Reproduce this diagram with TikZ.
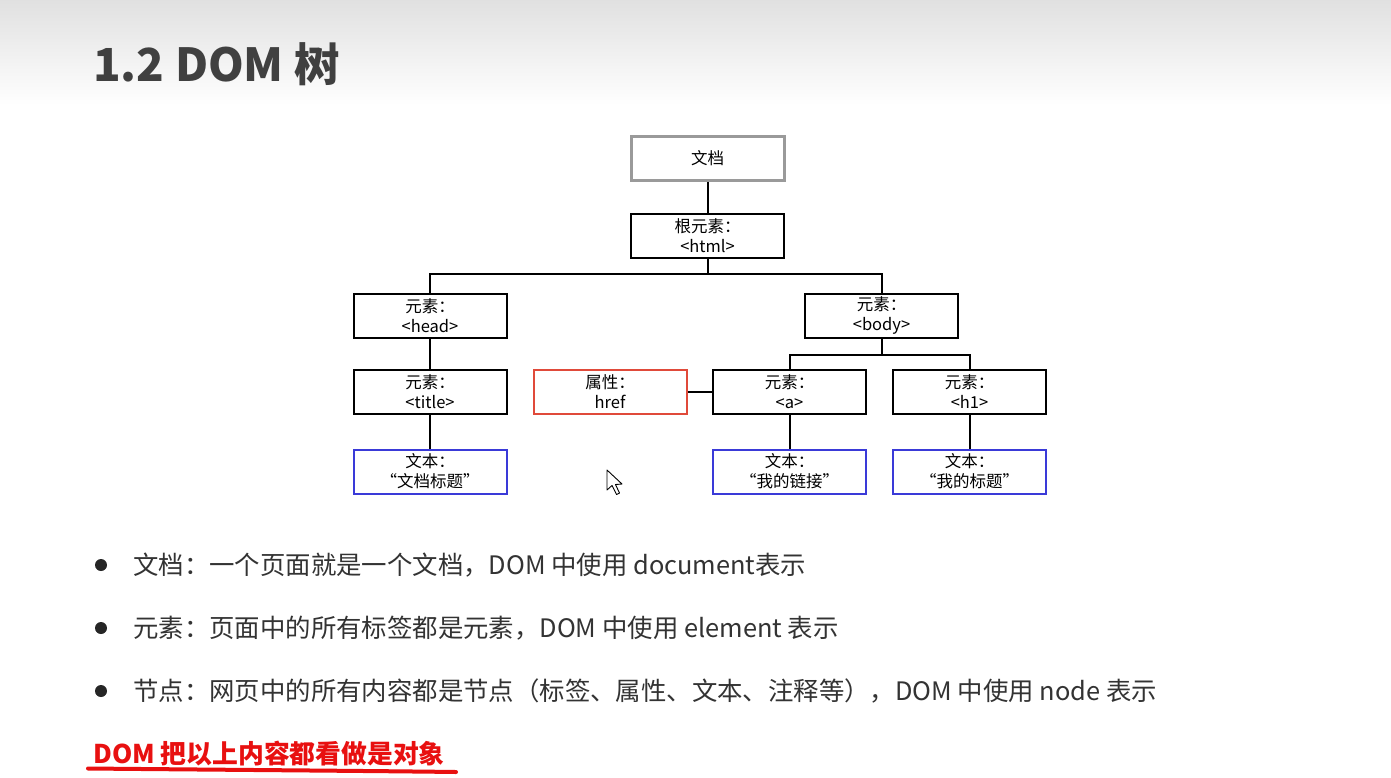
\documentclass[tikz,border=0pt]{standalone}
\usepackage{fontspec}
\setmainfont{Noto Sans CJK SC}
\definecolor{titlegray}{HTML}{404040}
\definecolor{bodytext}{HTML}{333333}
\definecolor{attrred}{HTML}{E04A3A}
\definecolor{textblue}{HTML}{3A3AD8}
\definecolor{docgray}{HTML}{9A9A9A}
\definecolor{markred}{HTML}{E81010}
\tikzset{
  treebox/.style={draw=black, line width=2pt, fill=white, minimum width=153pt,
    minimum height=44pt, inner sep=0pt, align=center,
    font=\fontsize{16.5}{20}\selectfont},
  docbox/.style={treebox, draw=docgray, line width=3pt},
  attrbox/.style={treebox, draw=attrred},
  textbox/.style={treebox, draw=textblue},
  conn/.style={draw=black, line width=2pt},
  bullettext/.style={anchor=west, inner sep=0pt, text=bodytext,
    font=\fontsize{25.4}{29}\selectfont},
  bulletdot/.style={circle, fill=black!85, inner sep=0pt, minimum size=12pt}
}
\begin{document}
\begin{tikzpicture}[x=1pt,y=-1pt]
  % page and header band
  \useasboundingbox (0,0) rectangle (1391,777);
  \fill[white] (0,0) rectangle (1391,777);
  \shade[top color=black!12, bottom color=white] (0,0) rectangle (1391,105);

  % title
  \node[anchor=west, inner sep=0pt, text=titlegray,
        font=\fontsize{45.5}{50}\selectfont\bfseries] (title) at (93,64) {1.2 DOM 树};

  % tree nodes
  \node[docbox]  (doc)   at (707.5,158.5) {文档};
  \node[treebox] (html)  at (707.5,236)   {根元素：\\<html>};
  \node[treebox] (head)  at (430,315.5)   {元素：\\<head>};
  \node[treebox] (body)  at (881.5,315.5) {元素：\\<body>};
  \node[treebox] (ttl)   at (430,392)     {元素：\\<title>};
  \node[attrbox] (href)  at (610,392)     {属性：\\href};
  \node[treebox] (anc)   at (789.5,392)   {元素：\\<a>};
  \node[treebox] (hone)  at (969.5,392)   {元素：\\<h1>};
  \node[textbox] (ttxt)  at (430,471.5)   {文本：\\“文档标题”};
  \node[textbox] (atxt)  at (789.5,471.5) {文本：\\“我的链接”};
  \node[textbox] (htxt)  at (969.5,471.5) {文本：\\“我的标题”};

  % branch points
  \coordinate (hbar) at (707.5,274);
  \coordinate (bbar) at (881.5,355);

  % connectors
  \draw[conn] (doc) -- (html);
  \draw[conn] (html) -- (hbar);
  \draw[conn] (head.north) |- (hbar) -| (body.north);
  \draw[conn] (body) -- (bbar);
  \draw[conn] (anc.north) |- (bbar) -| (hone.north);
  \draw[conn] (head) -- (ttl);
  \draw[conn] (ttl) -- (ttxt);
  \draw[conn] (href) -- (anc);
  \draw[conn] (anc) -- (atxt);
  \draw[conn] (hone) -- (htxt);

  % mouse pointer
  \draw[fill=white, line width=0.9pt, line join=round]
    (607,470) -- (607,490) -- (612,485.5) -- (616.5,494.5) -- (619.5,493)
    -- (615.5,484.5) -- (622,484) -- cycle;

  % bullet list
  \node[bulletdot] (b1) at (101,565) {};
  \node[bullettext] (t1) at (133,565) {文档：一个页面就是一个文档，DOM 中使用 document表示};
  \node[bulletdot] (b2) at (101,628) {};
  \node[bullettext] (t2) at (133,628) {元素：页面中的所有标签都是元素，DOM 中使用 element 表示};
  \node[bulletdot] (b3) at (101,691) {};
  \node[bullettext] (t3) at (133,691) {节点：网页中的所有内容都是节点（标签、属性、文本、注释等），DOM 中使用 node 表示};

  % highlighted conclusion
  \node[anchor=west, inner sep=0pt, text=markred,
        font=\fontsize{25.8}{29}\selectfont\bfseries] (concl) at (93,754) {DOM 把以上内容都看做是对象};
  \draw[markred, line width=4pt, line cap=round]
    (88,768.5) .. controls (250,770) and (380,771) .. (456,772);
\end{tikzpicture}
\end{document}
